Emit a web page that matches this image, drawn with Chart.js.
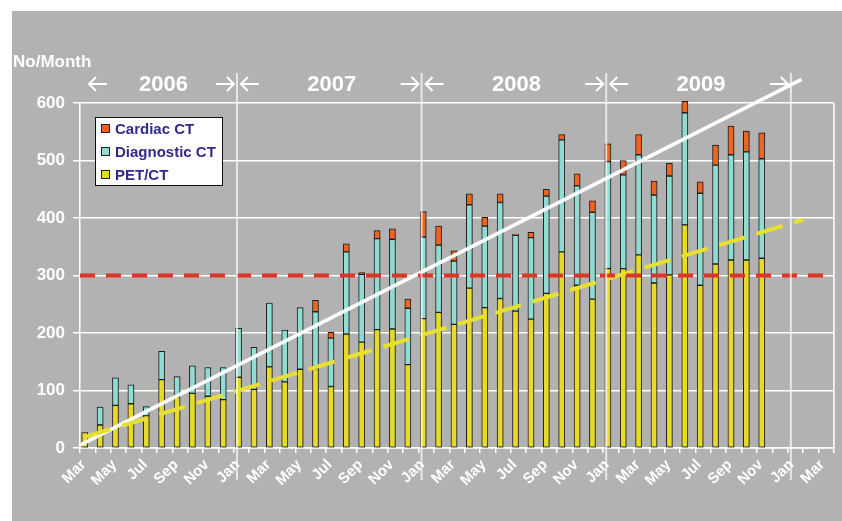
<!DOCTYPE html>
<html>
<head>
<meta charset="utf-8">
<script src="https://cdn.jsdelivr.net/npm/chart.js@4"></script>
<style>
html, body { margin: 0; padding: 0; background: #fff; }
</style>
</head>
<body>
<canvas id="chart" width="842" height="521"></canvas>
<script>
// months Mar 2006 .. Mar 2010
const monthLabels = ['Mar', 'Apr', 'May', 'Jun', 'Jul', 'Aug', 'Sep', 'Oct', 'Nov', 'Dec',
    'Jan', 'Feb', 'Mar', 'Apr', 'May', 'Jun', 'Jul', 'Aug', 'Sep', 'Oct', 'Nov', 'Dec',
    'Jan', 'Feb', 'Mar', 'Apr', 'May', 'Jun', 'Jul', 'Aug', 'Sep', 'Oct', 'Nov', 'Dec',
    'Jan', 'Feb', 'Mar', 'Apr', 'May', 'Jun', 'Jul', 'Aug', 'Sep', 'Oct', 'Nov', 'Dec',
    'Jan', 'Feb', 'Mar'];
const yearLabels = ['2006', '2007', '2008', '2009'];

const petCt = [27, 40, 74, 77, 56, 119, 89, 95, 90, 84,
    123, 102, 141, 115, 137, 138, 107, 198, 184, 206, 207, 145,
    225, 236, 215, 278, 244, 260, 238, 224, 269, 341, 283, 259,
    312, 312, 336, 287, 301, 388, 283, 320, 327, 327, 330, null,
    null, null, null];
const diagnosticCt = [0, 31, 48, 33, 16, 49, 35, 48, 50, 56,
    85, 73, 111, 90, 107, 99, 84, 143, 118, 158, 156, 98,
    142, 117, 110, 145, 142, 167, 132, 142, 169, 195, 173, 151,
    186, 163, 174, 153, 172, 195, 160, 172, 183, 188, 173, null,
    null, null, null];
const cardiacCt = [0, 0, 0, 0, 0, 0, 0, 0, 0, 0,
    0, 0, 0, 0, 0, 20, 10, 14, 3, 14, 18, 16,
    44, 33, 18, 19, 15, 15, 2, 9, 12, 9, 21, 20,
    31, 25, 35, 24, 22, 20, 20, 35, 50, 36, 45, null,
    null, null, null];

// trend lines (month index, count)
const totalTrendX = [-0.5, 46.4];
const totalTrend = [5, 641];
const petTrendX = [-0.2, 46.5];
const petTrend = [19, 397];
const targetLevel = 300;

const FONT = "'Liberation Sans', Arial, sans-serif";
Chart.defaults.font.family = FONT;

const toPoints = (xs, ys) => xs.map((x, i) => ({ x: x, y: ys[i] }));

const panelPlugin = {
    id: 'panel',
    beforeDraw(chart) {
        const c = chart.ctx;
        c.save();
        c.fillStyle = '#fff';
        c.fillRect(0, 0, chart.width, chart.height);
        c.fillStyle = '#b2b2b2';
        c.fillRect(12, 11, chart.width - 12, chart.height - 11);
        c.restore();
    }
};

const shadowPlugin = {
    id: 'barShadow',
    beforeDatasetDraw(chart, args) {
        if (args.meta.type !== 'bar') return;
        const c = chart.ctx;
        c.save();
        c.shadowColor = 'rgba(70,70,70,0.55)';
        c.shadowOffsetX = 2;
        c.shadowOffsetY = 1;
        c.shadowBlur = 1.5;
    },
    afterDatasetDraw(chart, args) {
        if (args.meta.type === 'bar') chart.ctx.restore();
    }
};

function arrow(c, x1, x2, y, dir) {
    const tip = dir < 0 ? x1 : x2;
    c.beginPath();
    c.moveTo(x1, y);
    c.lineTo(x2, y);
    c.moveTo(tip - dir * 7, y - 7);
    c.lineTo(tip, y);
    c.lineTo(tip - dir * 7, y + 7);
    c.stroke();
}

const yearsPlugin = {
    id: 'years',
    afterDatasetsDraw(chart) {
        const c = chart.ctx;
        const area = chart.chartArea;
        const xs = chart.scales.x2;
        c.save();
        // right border of the plot
        c.strokeStyle = '#fff';
        c.lineWidth = 1.5;
        c.beginPath();
        c.moveTo(area.right, area.top);
        c.lineTo(area.right, area.bottom);
        c.stroke();

        // year separators, drawn at the start of each January
        const bounds = [-0.5];
        monthLabels.forEach((m, i) => { if (m === 'Jan') bounds.push(i - 0.3); });
        c.strokeStyle = 'rgba(255,255,255,0.7)';
        c.lineWidth = 2;
        bounds.slice(1).forEach(b => {
            const px = xs.getPixelForValue(b);
            c.beginPath();
            c.moveTo(px, 73);
            c.lineTo(px, 480);
            c.stroke();
        });

        c.strokeStyle = '#fff';
        c.fillStyle = '#fff';
        c.lineWidth = 2;
        c.font = 'bold 22px ' + FONT;
        c.textAlign = 'center';
        c.textBaseline = 'middle';
        const y = 84;
        yearLabels.forEach((yr, i) => {
            const a = xs.getPixelForValue(bounds[i]);
            const b = xs.getPixelForValue(bounds[i + 1]);
            const l1 = a + (i === 0 ? 9 : 4), l2 = l1 + 18;
            const r2 = b - 3, r1 = r2 - 18;
            arrow(c, l1, l2, y, -1);
            arrow(c, r1, r2, y, 1);
            c.fillText(yr, (l1 + r2) / 2 + 2, y + 1);
        });

        c.font = 'bold 17px ' + FONT;
        c.textAlign = 'left';
        c.textBaseline = 'alphabetic';
        c.fillText('No/Month', 13, 67);
        c.restore();
    }
};

const legendPlugin = {
    id: 'boxLegend',
    afterDraw(chart) {
        const c = chart.ctx;
        const area = chart.chartArea;
        const items = chart.data.datasets.filter(d => d.type === 'bar').reverse();
        const left = area.left + 15, top = area.top + 14;
        const w = 127, h = 68;
        c.save();
        c.fillStyle = '#fff';
        c.fillRect(left, top, w, h);
        c.strokeStyle = '#111';
        c.lineWidth = 1;
        c.strokeRect(left + 0.5, top + 0.5, w, h);
        c.font = 'bold 15px ' + FONT;
        c.textBaseline = 'middle';
        items.forEach((d, i) => {
            const cy = top + 12 + i * 23;
            c.fillStyle = d.backgroundColor;
            c.fillRect(left + 6, cy - 5, 9, 9);
            c.strokeStyle = '#222';
            c.strokeRect(left + 6.5, cy - 4.5, 8, 8);
            c.fillStyle = '#322a8a';
            c.fillText(d.label, left + 20, cy + 1);
        });
        c.restore();
    }
};

const barStyle = { type: 'bar', borderColor: '#1c1c1c', borderWidth: 1, borderSkipped: false,
    barThickness: 6, order: 1, clip: false, xAxisID: 'x' };
const lineStyle = { type: 'line', xAxisID: 'x2', pointRadius: 0, fill: false, tension: 0,
    clip: false, order: 0 };

const ctx = document.getElementById('chart').getContext('2d');
const chart = new Chart(ctx, {
    data: {
        labels: monthLabels,
        datasets: [
            Object.assign({}, barStyle, { label: 'PET/CT', data: petCt, backgroundColor: '#e6dc28' }),
            Object.assign({}, barStyle, { label: 'Diagnostic CT', data: diagnosticCt, backgroundColor: '#8edcd2' }),
            Object.assign({}, barStyle, { label: 'Cardiac CT', data: cardiacCt, backgroundColor: '#f0641e' }),
            Object.assign({}, lineStyle, {
                label: 'Target', stack: 'target',
                data: toPoints([-0.5, monthLabels.length - 0.5], [targetLevel, targetLevel]),
                borderColor: '#dc3526', borderWidth: 4, borderDash: [15, 11]
            }),
            Object.assign({}, lineStyle, {
                label: 'PET trend', stack: 'petTrend',
                data: toPoints(petTrendX, petTrend),
                borderColor: '#e8e030', borderWidth: 4, borderDash: [27, 12]
            }),
            Object.assign({}, lineStyle, {
                label: 'Total trend', stack: 'totalTrend',
                data: toPoints(totalTrendX, totalTrend),
                borderColor: '#ffffff', borderWidth: 3.5
            })
        ]
    },
    options: {
        responsive: false,
        animation: false,
        devicePixelRatio: 1,
        layout: { padding: { top: 103, right: 4, left: 0, bottom: 0 } },
        plugins: { legend: { display: false }, tooltip: { enabled: false } },
        scales: {
            x: {
                type: 'category',
                stacked: true,
                offset: true,
                grid: { offset: true, drawOnChartArea: false, drawTicks: true, tickLength: 5, color: '#fff', lineWidth: 1.5 },
                border: { display: true, color: '#fff', width: 1.5 },
                ticks: {
                    color: '#fff', font: { size: 15, weight: 'bold' },
                    minRotation: 45, maxRotation: 45, autoSkip: false, padding: 3, labelOffset: -4,
                    callback: (v, i) => (i % 2 === 0 ? monthLabels[i] : '')
                },
                afterFit: s => { s.height = 73; }
            },
            x2: { type: 'linear', display: false, min: -0.5, max: monthLabels.length - 0.5 },
            y: {
                stacked: true,
                min: 0,
                max: 600,
                ticks: { stepSize: 100, color: '#fff', font: { size: 17, weight: 'bold' }, padding: 8 },
                grid: { color: '#fff', lineWidth: 1.5, tickLength: 7 },
                border: { display: true, color: '#fff', width: 1.5 },
                afterFit: s => { s.width = 80; }
            }
        }
    },
    plugins: [panelPlugin, shadowPlugin, yearsPlugin, legendPlugin]
});
</script>
</body>
</html>
